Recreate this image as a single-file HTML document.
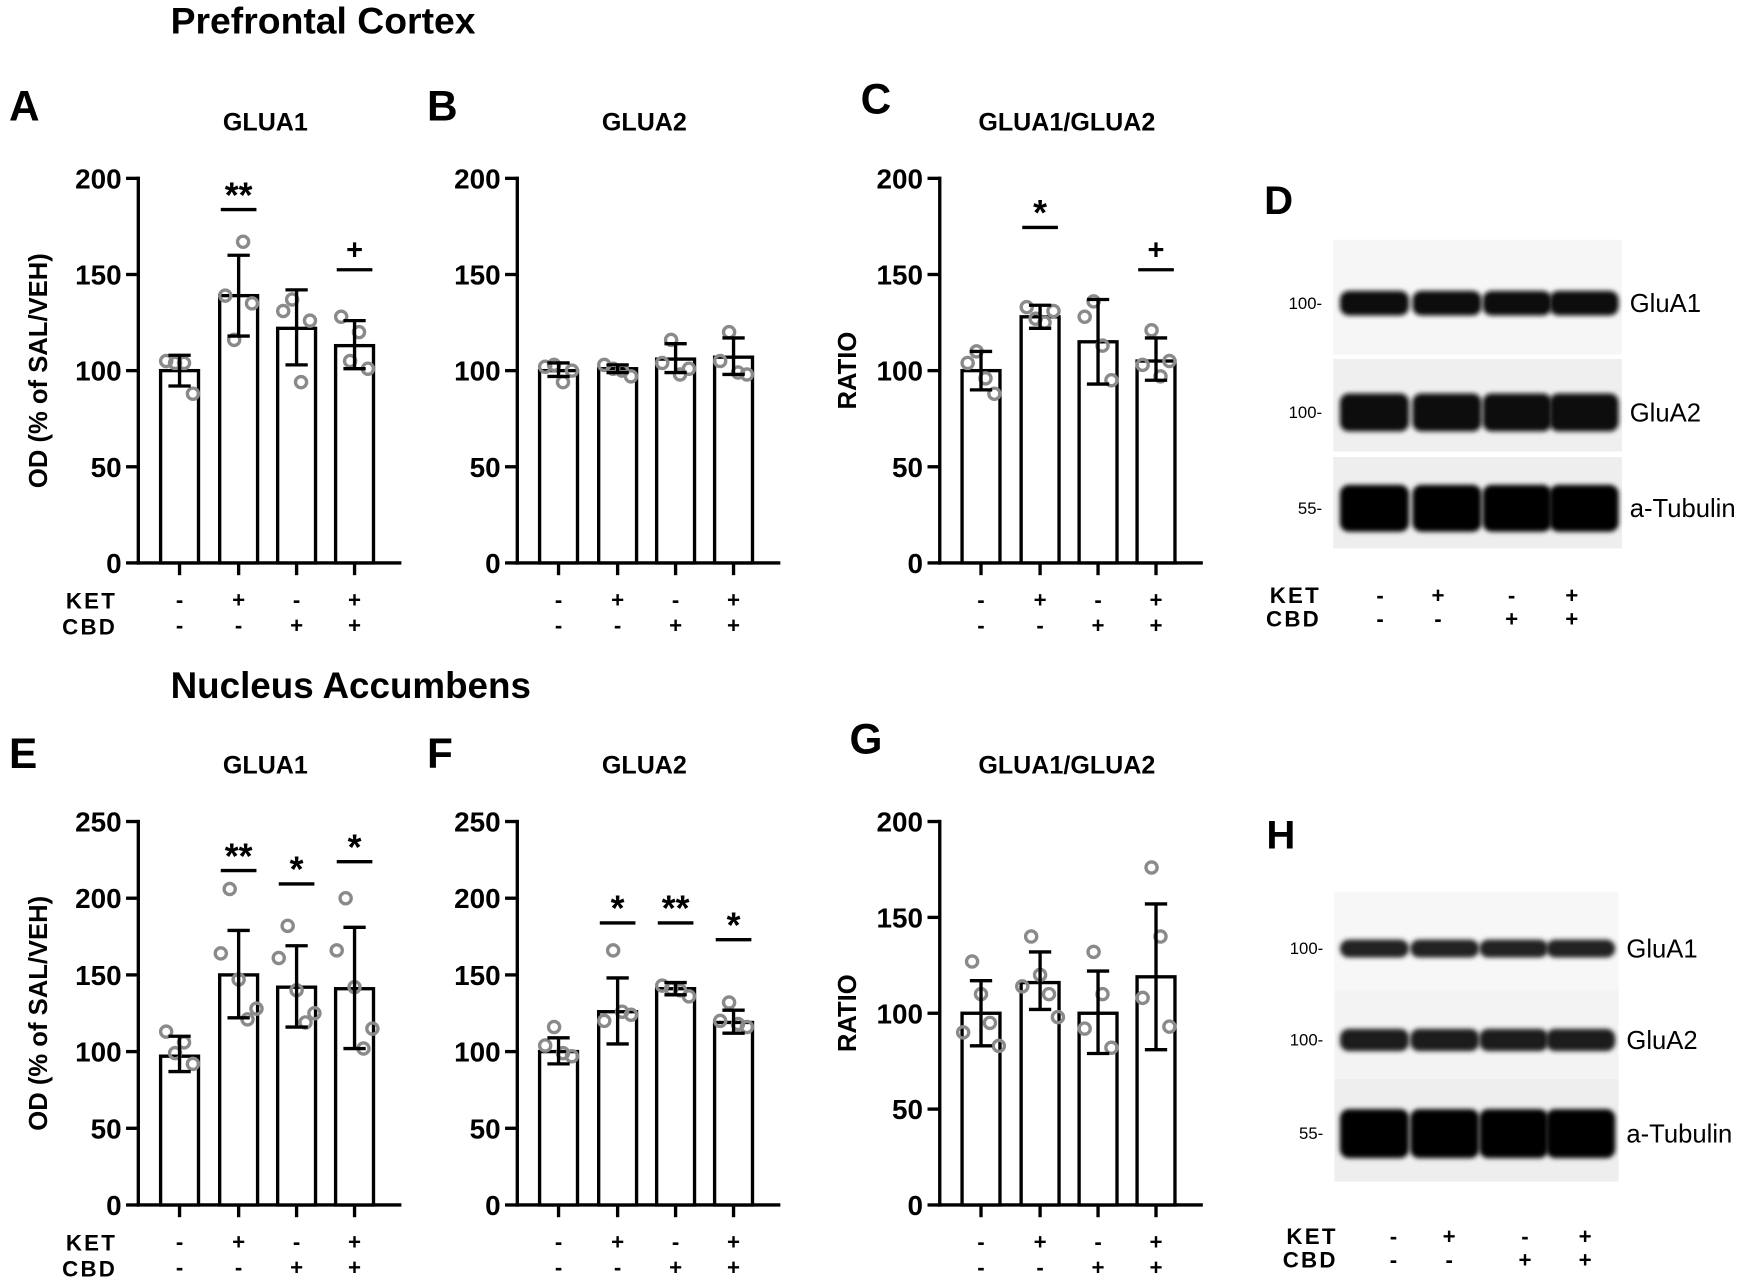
<!DOCTYPE html>
<html><head><meta charset="utf-8"><style>
html,body{margin:0;padding:0;background:#fff}
svg{display:block}
text{font-family:"Liberation Sans",Arial,sans-serif}
</style></head><body>
<svg id="s" width="1748" height="1283" viewBox="0 0 1568 1151" xmlns="http://www.w3.org/2000/svg">
<defs>
<filter id="bl" x="-20%" y="-50%" width="140%" height="200%"><feGaussianBlur stdDeviation="2.2"/></filter>
</defs>
</svg>
<script>
const s=document.getElementById('s');let h='';
function T(x,y,t,sz,w,anc,extra){h+=`<text x="${x}" y="${y}" font-size="${sz}" font-weight="${w||'bold'}" text-anchor="${anc||'start'}" ${extra||''}>${t}</text>`;}
function L(x1,y1,x2,y2,w){h+=`<line x1="${x1}" y1="${y1}" x2="${x2}" y2="${y2}" stroke="#000" stroke-width="${w||3}"/>`;}
T(153,30,'Prefrontal Cortex',33.5);
T(153,626,'Nucleus Accumbens',33);
function panel(o){
 const ax=o.ax,top=o.top,bot=o.bot,max=o.max,step=o.step;
 const sc=(bot-top)/max;const Y=v=>bot-v*sc;
 T(o.lx,o.ly,o.letter,38);
 T(ax+114,o.ty,o.title,22.5,'bold','middle');
 L(ax,top-1.5,ax,bot+1.5);L(ax-1.5,bot,ax+236,bot);
 for(let v=0;v<=max;v+=step){L(ax-11,Y(v),ax,Y(v));T(ax-15,Y(v)+9,v,25,'bold','end');}
 if(o.ylab)T(0,0,o.ylab,23,'bold','middle',`transform="translate(${o.ylx},${(top+bot)/2}) rotate(-90)"`);
 const cs=[37,90,142,194];
 o.bars.forEach((b,i)=>{const cx=ax+cs[i];
  h+=`<rect x="${cx-17}" y="${Y(b[0])}" width="34" height="${bot-Y(b[0])}" fill="#fff" stroke="#000" stroke-width="3"/>`;
  L(cx,bot,cx,bot+11);
  const pts=o.pts[i];pts.forEach((p,j)=>{const dx=(j-(pts.length-1)/2)*8;
   h+=`<circle cx="${cx+dx}" cy="${Y(p)}" r="5" fill="none" stroke="#8a8a8a" stroke-width="3"/>`;});
  L(cx,Y(b[1]),cx,Y(b[2]));L(cx-10,Y(b[1]),cx+10,Y(b[1]));L(cx-10,Y(b[2]),cx+10,Y(b[2]));
  if(o.sig&&o.sig[i]){const [sym,ly]=o.sig[i];L(cx-16,ly,cx+16,ly,3);T(cx,sym=='+'?ly-9:ly-2,sym,sym=='+'?26:32,'bold','middle');}
  const k=['-','+','-','+'][i],c=['-','-','+','+'][i];
  T(cx,bot+40,k,20,'bold','middle');T(cx,bot+63,c,20,'bold','middle');
 });
 if(o.rowlab){T(105,bot+41,'KET',20,'bold','end','letter-spacing="2"');T(105,bot+64,'CBD',20,'bold','end','letter-spacing="2"');}
}
panel({ax:124,top:160,bot:505,max:200,step:50,lx:8,ly:108,ty:117,letter:'A',title:'GLUA1',ylab:'OD (% of SAL/VEH)',ylx:42,rowlab:1,
 bars:[[100,92,108],[139,118,160],[122,103,142],[113,101,126]],
 pts:[[105,104,104,88],[139,116,167,135],[131,137,94,126],[128,105,120,101]],
 sig:[0,['**',188],0,['+',242]]});
panel({ax:464,top:160,bot:505,max:200,step:50,lx:383,ly:108,ty:117,letter:'B',title:'GLUA2',
 bars:[[100,97,104],[101,99,103],[106,99,114],[107,98,117]],
 pts:[[102,103,94,100],[103,101,100,97],[104,116,98,101],[105,120,99,98]]});
panel({ax:843,top:160,bot:505,max:200,step:50,lx:772,ly:102,ty:117,letter:'C',title:'GLUA1/GLUA2',ylab:'RATIO',ylx:768,
 bars:[[100,90,110],[128,122,134],[115,93,137],[105,95,117]],
 pts:[[104,110,96,88],[133,127,125,131],[128,136,113,95],[103,121,97,105]],
 sig:[0,['*',204],0,['+',242]]});
panel({ax:124,top:737,bot:1081,max:250,step:50,lx:8,ly:689,ty:694,letter:'E',title:'GLUA1',ylab:'OD (% of SAL/VEH)',ylx:42,rowlab:1,
 bars:[[97,87,110],[150,122,179],[142,116,169],[141,102,181]],
 pts:[[113,99,106,92],[164,206,147,121,128],[161,182,140,119,125],[166,200,142,102,115]],
 sig:[0,['**',781],['*',793],['*',773]]});
panel({ax:464,top:737,bot:1081,max:250,step:50,lx:383,ly:689,ty:694,letter:'F',title:'GLUA2',
 bars:[[100,92,109],[126,105,148],[141,137,145],[119,112,127]],
 pts:[[104,116,99,97],[120,166,126,124],[143,141,140,136],[120,132,118,116]],
 sig:[0,['*',828],['**',828],['*',843]]});
panel({ax:843,top:737,bot:1081,max:200,step:50,lx:762,ly:676,ty:694,letter:'G',title:'GLUA1/GLUA2',ylab:'RATIO',ylx:768,
 bars:[[100,83,117],[116,102,132],[100,79,122],[119,81,157]],
 pts:[[90,127,110,95,83],[114,140,120,110,98],[92,132,110,82],[108,176,140,93]]});
function blot(o){
 T(o.lx,o.ly,o.letter,36);
 o.rows.forEach(r=>{
  h+=`<rect x="${o.x0}" y="${r.y0}" width="${o.x1-o.x0}" height="${r.y1-r.y0}" fill="${r.bg}"/>`;
  o.lanes.forEach((lx,i)=>{h+=`<rect x="${lx-31}" y="${r.by-r.bh/2}" width="62" height="${r.bh}" rx="8" fill="${r.col}" filter="url(#bl)"/>`;});
  T(o.x0-10,r.by+5,r.mw,15,'normal','end');
  T(o.x1+7,r.by+8,r.name,23,'normal','start');
 });
 T(o.klx,o.ky,'KET',20,'bold','end','letter-spacing="2"');T(o.klx,o.ky+21,'CBD',20,'bold','end','letter-spacing="2"');
 o.klanes.forEach((x,i)=>{T(x,o.ky,['-','+','-','+'][i],20,'bold','middle');T(x,o.ky+21,['-','-','+','+'][i],20,'bold','middle');});
}
blot({letter:'D',lx:1134,ly:192,x0:1196,x1:1455,lanes:[1233,1298,1361,1421],
 rows:[{y0:215,y1:318,by:272,bh:22,bg:'#f6f6f6',col:'#111',mw:'100-',name:'GluA1'},
       {y0:322,y1:405,by:370,bh:34,bg:'#efefef',col:'#0a0a0a',mw:'100-',name:'GluA2'},
       {y0:410,y1:492,by:456,bh:42,bg:'#eeeeee',col:'#050505',mw:'55-',name:'a-Tubulin'}],
 klx:1185,ky:541,klanes:[1238,1290,1356,1410]});
blot({letter:'H',lx:1136,ly:761,x0:1197,x1:1452,lanes:[1233,1296,1358,1418],
 rows:[{y0:800,y1:888,by:851,bh:16,bg:'#f7f7f7',col:'#222',mw:'100-',name:'GluA1'},
       {y0:888,y1:968,by:933,bh:20,bg:'#f3f3f3',col:'#1a1a1a',mw:'100-',name:'GluA2'},
       {y0:968,y1:1060,by:1017,bh:44,bg:'#eeeeee',col:'#050505',mw:'55-',name:'a-Tubulin'}],
 klx:1200,ky:1116,klanes:[1250,1300,1368,1422]});
s.insertAdjacentHTML('beforeend',h);
</script>
</body></html>
